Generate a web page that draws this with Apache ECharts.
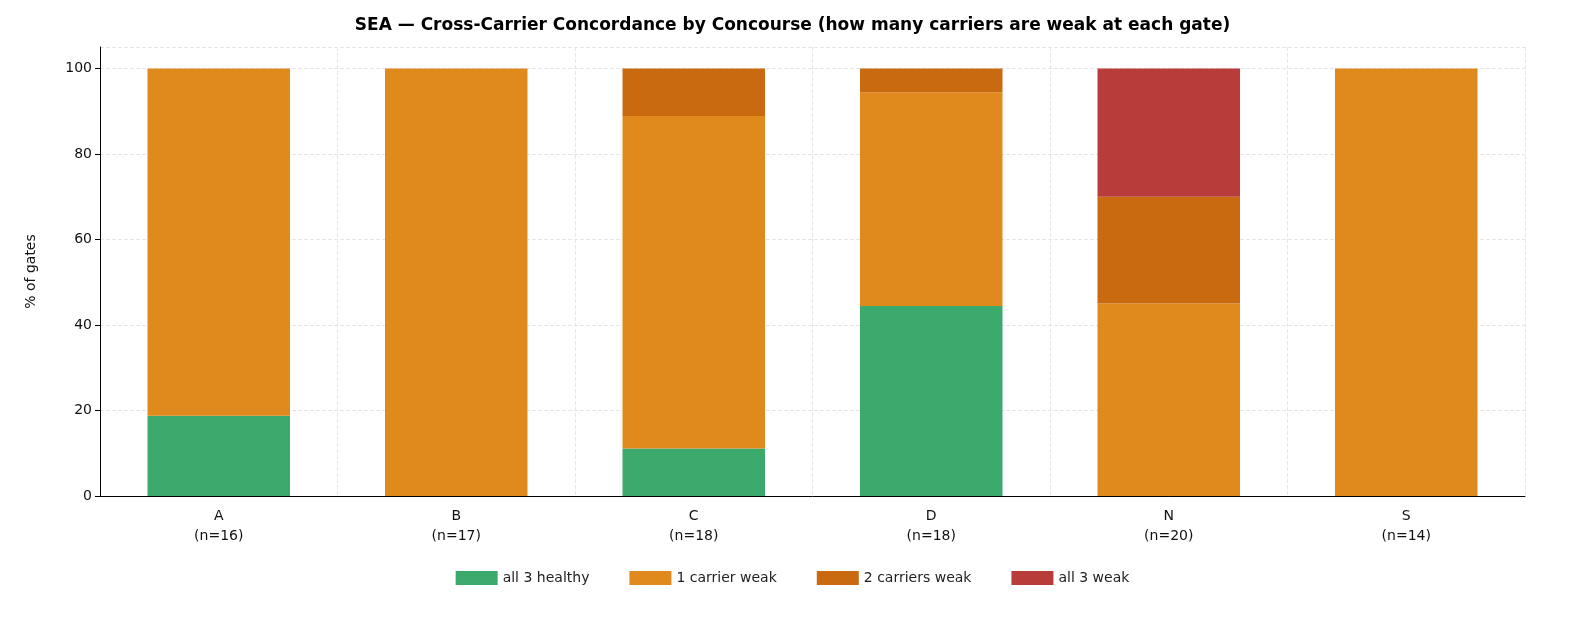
<!DOCTYPE html>
<html>
<head>
<meta charset="utf-8">
<script src="https://cdn.jsdelivr.net/npm/echarts@6/dist/echarts.min.js"></script>
<style>html,body{margin:0;padding:0;background:#fff}#chart{width:1585px;height:620px}</style>
</head>
<body>
<div id="chart"></div>
<script>
const categories = ["A\n(n=16)", "B\n(n=17)", "C\n(n=18)", "D\n(n=18)", "N\n(n=20)", "S\n(n=14)"];
const healthy = [18.75, 0, 11.11, 44.44, 0, 0];
const oneWeak = [81.25, 100, 77.78, 50, 45, 100];
const twoWeak = [0, 0, 11.11, 5.56, 25, 0];
const allWeak = [0, 0, 0, 0, 30, 0];

const chart = echarts.init(document.getElementById("chart"));
const font = "DejaVu Sans";
function bar(name, data, color) {
  return { name: name, type: "bar", stack: "s", data: data, barWidth: "60%",
    itemStyle: { color: color }, animation: false };
}
chart.setOption({
  textStyle: { fontFamily: font },
  title: {
    text: "SEA — Cross-Carrier Concordance by Concourse (how many carriers are weak at each gate)",
    left: "center", top: 12,
    textStyle: { fontSize: 17, fontWeight: "bold", color: "#000", fontFamily: font }
  },
  legend: {
    bottom: 30, itemWidth: 42, itemHeight: 14, itemGap: 40,
    textStyle: { fontSize: 14, color: "#222", fontFamily: font },
    icon: "rect"
  },
  grid: { left: 100, right: 60, top: 47, bottom: 124 },
  xAxis: {
    type: "category", data: categories,
    axisLine: { lineStyle: { color: "#000" } },
    axisTick: { alignWithLabel: true, lineStyle: { color: "#000" } },
    axisLabel: { fontSize: 14, color: "#111", lineHeight: 20, margin: 10 },
    splitLine: { show: true, lineStyle: { type: "dashed", color: "#e6e6e6" } }
  },
  yAxis: {
    type: "value", min: 0, max: 105, interval: 20,
    name: "% of gates", nameLocation: "middle", nameGap: 62,
    nameTextStyle: { fontSize: 14, color: "#111" },
    axisLine: { show: true, lineStyle: { color: "#000" } },
    axisTick: { show: true, lineStyle: { color: "#000" } },
    axisLabel: { fontSize: 14, color: "#111", showMaxLabel: false },
    splitLine: { lineStyle: { type: "dashed", color: "#e6e6e6" } }
  },
  series: [
    bar("all 3 healthy", healthy, "#3daa6d"),
    bar("1 carrier weak", oneWeak, "#e08a1e"),
    bar("2 carriers weak", twoWeak, "#c96a10"),
    bar("all 3 weak", allWeak, "#b83c3a")
  ]
});
</script>
</body>
</html>
